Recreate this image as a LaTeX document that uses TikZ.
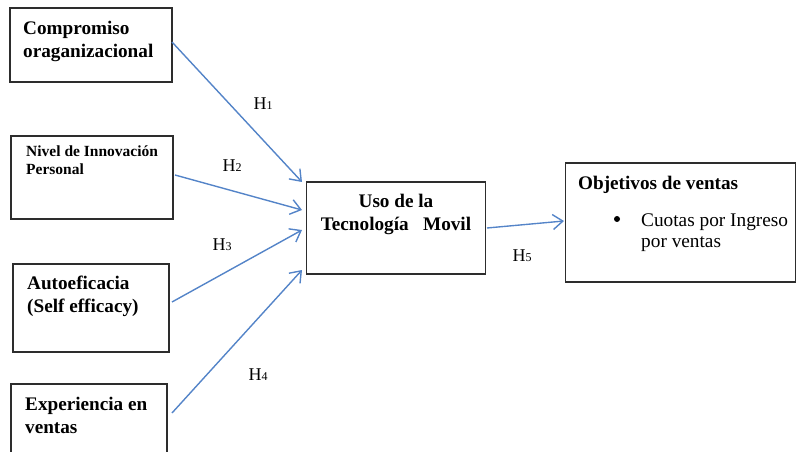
\documentclass[tikz,border=0pt]{standalone}
\usepackage{fontspec}
\setmainfont{Liberation Serif}
\usetikzlibrary{arrows.meta}
\definecolor{arr}{RGB}{84,132,200}
\definecolor{edge}{RGB}{45,45,45}
\newcommand{\hy}[1]{H{\fontsize{12}{12}\selectfont #1}}
\begin{document}
\begin{tikzpicture}[x=1pt,y=-1pt,
  box/.style={draw=edge,line width=1.5pt,inner sep=0pt},
  lbl/.style={anchor=base west,inner sep=0pt,align=left,font=\bfseries\fontsize{19.2}{23}\selectfont},
  small/.style={anchor=base west,inner sep=0pt,align=left,font=\bfseries\fontsize{15.5}{18}\selectfont},
  plain/.style={anchor=base west,inner sep=0pt,align=left,font=\fontsize{19.3}{21}\selectfont},
  conn/.style={draw=arr,line width=1.4pt,-{Straight Barb[length=10pt,width=15pt,line width=1.4pt]}},
  hyp/.style={inner sep=1pt,font=\fontsize{18}{20}\selectfont}]
\useasboundingbox (0,0) rectangle (796,452);
% boxes
\node[box,minimum width=162pt,minimum height=74pt] (b1) at (91,45) {};
\node[box,minimum width=162pt,minimum height=83pt] (b2) at (92,177.5) {};
\node[box,minimum width=156pt,minimum height=88pt] (b3) at (91,308) {};
\node[box,minimum width=156pt,minimum height=110pt] (b4) at (89,439) {};
\node[box,minimum width=179pt,minimum height=92pt] (c) at (396,228) {};
\node[box,minimum width=230pt,minimum height=119pt] (o) at (680.5,222.5) {};
% texts (base = baseline of last line)
\node[lbl] (t1) at (23,58) {Compromiso\\oraganizacional};
\node[small] (t2) at (26,175) {Nivel de Innovación\\Personal};
\node[lbl] (t3) at (27,312) {Autoeficacia\\(Self efficacy)};
\node[lbl] (t4) at (25,433) {Experiencia en\\ventas};
\node[lbl,anchor=base,align=center] (tc) at (396,230) {Uso de la\\Tecnología~~ Movil};
\node[lbl] (to) at (578,189) {Objetivos de ventas};
\node[circle,fill=black,inner sep=0pt,minimum size=6pt] (bul) at (617,219) {};
\node[plain] (tb) at (641,247) {Cuotas por Ingreso\\por ventas};
% connectors
\coordinate (s1) at (172,42);
\coordinate (s2) at (175,175);
\coordinate (s3) at (172,302);
\coordinate (s4) at (172,413);
\coordinate (e1) at (302,182);
\coordinate (e2) at (302,210);
\coordinate (e3) at (302,230);
\coordinate (e4) at (302,270);
\coordinate (s5) at (487,228);
\coordinate (e5) at (564,221);
\draw[conn] (s1) -- (e1);
\draw[conn] (s2) -- (e2);
\draw[conn] (s3) -- (e3);
\draw[conn] (s4) -- (e4);
\draw[conn] (s5) -- (e5);
% labels
\node[hyp] (h1) at (263,104) {\hy{1}};
\node[hyp] (h2) at (232,166) {\hy{2}};
\node[hyp] (h3) at (222,245) {\hy{3}};
\node[hyp] (h4) at (258,375) {\hy{4}};
\node[hyp] (h5) at (522,256) {\hy{5}};
\end{tikzpicture}
\end{document}
